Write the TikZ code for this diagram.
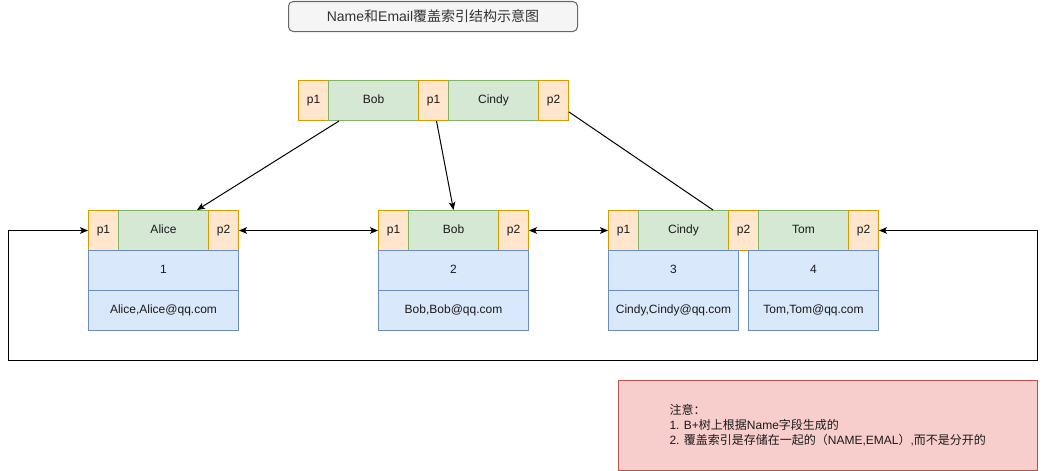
\documentclass[tikz,border=0pt]{standalone}
\usepackage{fontspec}
\setmainfont{Liberation Sans}
\newfontfamily\cjk{Noto Sans CJK SC}
\newcommand\zh[1]{{\cjk #1}}
\usetikzlibrary{arrows.meta,calc}

\definecolor{orfill}{HTML}{FFE6CC}
\definecolor{orline}{HTML}{D79B00}
\definecolor{grfill}{HTML}{D5E8D4}
\definecolor{grline}{HTML}{82B366}
\definecolor{blfill}{HTML}{DAE8FC}
\definecolor{blline}{HTML}{6C8EBF}
\definecolor{notefill}{HTML}{F8CECC}
\definecolor{noteline}{HTML}{B85450}
\definecolor{titlefill}{HTML}{F5F5F5}
\definecolor{titleline}{HTML}{666666}
\definecolor{titletext}{HTML}{333333}
\definecolor{ink}{HTML}{1A1A1A}

\begin{document}
\begin{tikzpicture}[x=0.75pt, y=-0.75pt, line width=0.75pt,
  every node/.style={font=\fontsize{9pt}{11.25pt}\selectfont, text=ink},
  cell/.style={draw, anchor=north west, inner sep=0pt, minimum height=30pt,
    text height=7pt, text depth=2pt},
  ptr/.style={cell, fill=orfill, draw=orline, minimum width=22.5pt},
  key/.style={cell, fill=grfill, draw=grline, minimum width=67.5pt},
  rec/.style={cell, fill=blfill, draw=blline},
  tip/.style={Stealth[length=6pt, width=5pt, inset=1.5pt]},
  link/.style={draw=black, -{Stealth[length=6pt, width=5pt, inset=1.5pt]}},
  plain/.style={draw=black},
  both/.style={draw=black, {Stealth[length=6pt, width=5pt, inset=1.5pt]}-{Stealth[length=6pt, width=5pt, inset=1.5pt]}}]

\useasboundingbox (0,0) rectangle (1046,471);

% title
\node[draw=titleline, fill=titlefill, rounded corners=3.5pt, anchor=north west,
  minimum width=216.75pt, minimum height=22.5pt, inner sep=0pt, text=titletext,
  font=\fontsize{10.5pt}{12pt}\selectfont] (title) at (288,1)
  {Name\zh{和}Email\zh{覆盖索引结构示意图}};

% root node
\node[ptr] (t1)  at (298,80) {p1};
\node[key] (tk1) at (328,80) {Bob};
\node[ptr] (t2)  at (418,80) {p1};
\node[key] (tk2) at (448,80) {Cindy};
\node[ptr] (t3)  at (538,80) {p2};

% leaf A
\node[ptr] (a1) at (88,210) {p1};
\node[key] (ak) at (118,210) {Alice};
\node[ptr] (a2) at (208,210) {p2};
\node[rec, minimum width=112.5pt] (ra1) at (88,250) {1};
\node[rec, minimum width=112.5pt] (ra2) at (88,290) {Alice,Alice@qq.com};

% leaf B
\node[ptr] (b1) at (378,210) {p1};
\node[key] (bk) at (408,210) {Bob};
\node[ptr] (b2) at (498,210) {p2};
\node[rec, minimum width=112.5pt] (rb1) at (378,250) {2};
\node[rec, minimum width=112.5pt] (rb2) at (378,290) {Bob,Bob@qq.com};

% leaf C
\node[ptr] (c1)  at (608,210) {p1};
\node[key] (ck)  at (638,210) {Cindy};
\node[ptr] (c2)  at (728,210) {p2};
\node[key] (ck2) at (758,210) {Tom};
\node[ptr] (c3)  at (848,210) {p2};
\node[rec, minimum width=97.5pt] (rc1) at (608,250) {3};
\node[rec, minimum width=97.5pt] (rc2) at (608,290) {Cindy,Cindy@qq.com};
\node[rec, minimum width=97.5pt] (rd1) at (748,250) {4};
\node[rec, minimum width=97.5pt] (rd2) at (748,290) {Tom,Tom@qq.com};

% tree edges
\draw[link] ($(tk1.south west)+(11,0)$) -- ($(ak.north west)+(79,0)$);
\draw[link] ($(t2.south)+(3,0)$) -- (bk.north);
\draw[plain] ($(t3.south east)+(0,-9)$) -- ($(ck.north east)+(-16,0)$);

% leaf chain
\draw[both] (a2.east) -- (b1.west);
\draw[both] (b2.east) -- (c1.west);
\coordinate (lr) at (1037,360);
\coordinate (ll) at (8,360);
\draw[both] (c3.east) -| (lr) -- (ll) |- (a1.west);

% note
\node[draw=noteline, fill=notefill, anchor=north west, inner sep=0pt,
  minimum width=314.25pt, minimum height=67.5pt] (note) at (618,380) {};
\node[anchor=west, align=left, inner sep=0pt] (notetext) at (669,425)
  {\zh{注意：}\\
   1. B+\zh{树上根据}Name\zh{字段生成的}\\
   2. \zh{覆盖索引是存储在一起的（}NAME,EMAL\zh{）},\zh{而不是分开的}};

\end{tikzpicture}
\end{document}
